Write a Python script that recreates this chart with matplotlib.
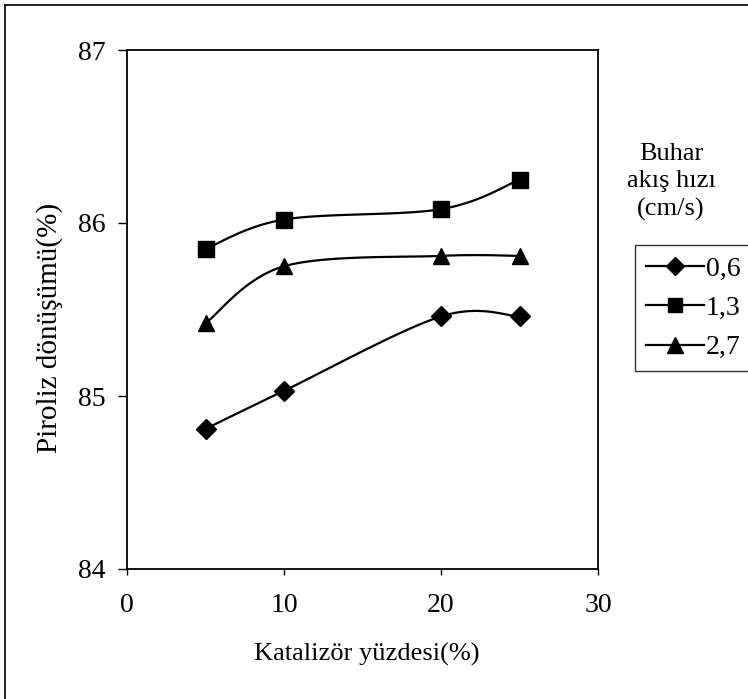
import matplotlib
matplotlib.use("Agg")
import matplotlib.pyplot as plt
import numpy as np
from matplotlib.lines import Line2D

plt.rcParams['font.family'] = ['Liberation Serif', 'DejaVu Serif']

# Katalizör yüzdesi (%)
katalizor = [5, 10, 20, 25]
# Piroliz dönüşümü (%) for each buhar akış hızı (cm/s)
seri_06 = [84.81, 85.03, 85.46, 85.46]
seri_13 = [85.85, 86.02, 86.08, 86.25]
seri_27 = [85.42, 85.75, 85.81, 85.81]
etiketler = ['0,6', '1,3', '2,7']
isaretler = ['D', 's', '^']


# Excel-like smoothed line (Catmull-Rom through the points, drawn as Bezier)
def yumusat(x, y, n=40):
    p = np.column_stack([x, y]).astype(float)
    p = np.vstack([p[0], p, p[-1]])
    xs, ys = [], []
    t = np.linspace(0, 1, n)
    for i in range(1, len(p) - 2):
        p0, p1, p2, p3 = p[i - 1], p[i], p[i + 1], p[i + 2]
        c1 = p1 + (p2 - p0) / 6.0
        c2 = p2 - (p3 - p1) / 6.0
        b = ((1 - t) ** 3)[:, None] * p1 + (3 * (1 - t) ** 2 * t)[:, None] * c1 \
            + (3 * (1 - t) * t ** 2)[:, None] * c2 + (t ** 3)[:, None] * p2
        xs.extend(b[:, 0])
        ys.extend(b[:, 1])
    return xs, ys


fig = plt.figure(figsize=(7.48, 6.99), dpi=100)
ax = fig.add_axes([127 / 748, 1 - 569 / 699, 471 / 748, 519 / 699])

boyut = {'D': 10, 's': 11, '^': 12}
tutamaclar = []
for seri, mk, et in zip([seri_06, seri_13, seri_27], isaretler, etiketler):
    sx, sy = yumusat(katalizor, seri)
    ax.plot(sx, sy, color='black', lw=1.6)
    ax.plot(katalizor, seri, linestyle='none', marker=mk, color='black',
            markersize=boyut[mk])
    tutamaclar.append(Line2D([], [], color='black', lw=1.6, marker=mk,
                             markersize=boyut[mk] - 1))

ax.set_xlim(0, 30)
ax.set_ylim(84, 87)
ax.set_xticks([0, 10, 20, 30])
ax.set_yticks([84, 85, 86, 87])
ax.tick_params(axis='y', direction='out', length=6.5, width=1, pad=9, labelsize=20)
ax.tick_params(axis='x', direction='out', length=4.5, width=1, pad=13, labelsize=20)
for s in ax.spines.values():
    s.set_linewidth(1.3)

ax.set_xlabel('Katalizör yüzdesi(%)', fontsize=19)
ax.xaxis.set_label_coords(0.51, -0.143)
ax.set_ylabel('Piroliz dönüşümü(%)', fontsize=21)
ax.yaxis.set_label_coords(-0.135, 0.464)

# legend title sits above the box
fig.text(671 / 748, 1 - 182 / 699, 'Buhar\nakış hızı\n(cm/s)', ha='center',
         va='center', fontsize=19, linespacing=1.3)
leg = fig.legend(tutamaclar, etiketler, loc='upper left',
                 bbox_to_anchor=(635 / 748, 1 - 245 / 699), fontsize=20,
                 frameon=True, fancybox=False, edgecolor='black',
                 borderaxespad=0, borderpad=0.4, handlelength=2.1,
                 handletextpad=0.05, labelspacing=0.5)
leg.get_frame().set_linewidth(1.0)

# outer frame of the scanned figure
fig.add_artist(Line2D([5 / 748, 5 / 748], [0, 1 - 5 / 699], color='black',
                      lw=1.2, transform=fig.transFigure))
fig.add_artist(Line2D([5 / 748, 1], [1 - 5 / 699, 1 - 5 / 699], color='black',
                      lw=1.2, transform=fig.transFigure))

fig.savefig('out.png', dpi=100)
